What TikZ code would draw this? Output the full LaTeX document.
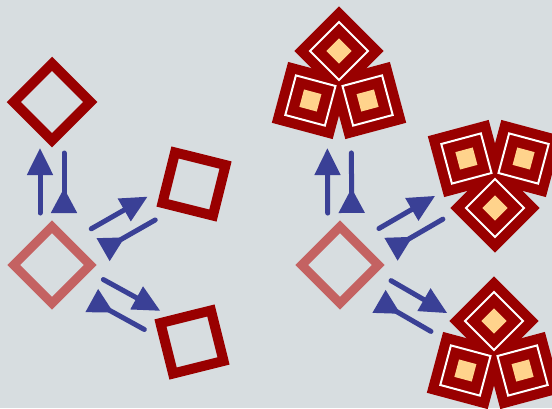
\documentclass[tikz,border=0pt]{standalone}
\usetikzlibrary{arrows.meta,calc}
\definecolor{bg}{RGB}{215,221,224}
\definecolor{dred}{RGB}{153,0,0}
\definecolor{pinkred}{RGB}{196,98,98}
\definecolor{ablue}{RGB}{58,64,150}
\definecolor{lorange}{RGB}{255,211,140}
\tikzset{
  srcbox/.style={draw=pinkred, line width=9pt, rectangle, inner sep=0pt, minimum size=54pt, rotate=45},
  tgtbox/.style={draw=dred, line width=10pt, rectangle, inner sep=0pt, minimum size=52pt},
  unitfill/.style={fill=dred, rectangle, inner sep=0pt, minimum size=63pt},
  unitline/.style={draw=white, line width=2pt, rectangle, inner sep=0pt, minimum size=41pt},
  unitcore/.style={fill=lorange, rectangle, inner sep=0pt, minimum size=18pt},
  fwd/.style={draw=ablue, line width=5pt, line cap=round, -{Triangle[length=27pt,width=25pt]}},
  bwd/.style={draw=ablue, line width=5pt, line cap=round, -{Triangle[reversed,length=25pt,width=25pt]}},
}
\newcommand\arrowpair[3]{%
  \coordinate (#3fs) at ($(#1)!52pt!(#2)!12pt!90:(#2)$);
  \coordinate (#3fe) at ($(#1)!117pt!(#2)!12pt!90:(#2)$);
  \coordinate (#3bs) at ($(#1)!112pt!(#2)!12pt!-90:(#2)$);
  \coordinate (#3be) at ($(#1)!52pt!(#2)!12pt!-90:(#2)$);
  \draw[fwd] (#3fs) -- (#3fe);
  \draw[bwd] (#3bs) -- (#3be);
}
\begin{document}
\begin{tikzpicture}[x=1pt,y=-1pt]
\useasboundingbox (0,0) rectangle (552,408);
\fill[bg] (0,0) rectangle (552,408);
\clip (0,0) rectangle (552,408);

% left group
\node[srcbox] (s1) at (52,265) {};
\node[tgtbox, rotate=45, minimum size=54pt] (t1) at (52,102) {};
\node[tgtbox, rotate=-14] (t2) at (194,184) {};
\node[tgtbox, rotate=14] (t3) at (192,342) {};
\arrowpair{s1}{t1}{a}
\arrowpair{s1}{t2}{b}
\arrowpair{s1}{t3}{c}

% right group
\node[srcbox] (s2) at (340,265) {};
\coordinate (c1) at (339,84);
\coordinate (c2) at (495,175);
\coordinate (c3) at (494,354);
\coordinate (p1) at (339,51);
\coordinate (p2) at (310.4,100.5);
\coordinate (p3) at (367.6,100.5);
\coordinate (p4) at (495,208);
\coordinate (p5) at (466.4,158.5);
\coordinate (p6) at (523.6,158.5);
\coordinate (p7) at (494,321);
\coordinate (p8) at (465.4,370.5);
\coordinate (p9) at (522.6,370.5);
\foreach \n/\a in {1/45,2/-15,3/15,4/45,5/15,6/-15,7/45,8/-15,9/15}
  \node[unitfill, rotate=\a] (u\n) at (p\n) {};
\foreach \n/\a in {1/45,2/-15,3/15,4/45,5/15,6/-15,7/45,8/-15,9/15}
  \node[unitline, rotate=\a] (w\n) at (p\n) {};
\foreach \n/\a in {1/45,2/-15,3/15,4/45,5/15,6/-15,7/45,8/-15,9/15}
  \node[unitcore, rotate=\a] (k\n) at (p\n) {};
\arrowpair{s2}{c1}{d}
\arrowpair{s2}{c2}{e}
\arrowpair{s2}{c3}{f}
\end{tikzpicture}
\end{document}
